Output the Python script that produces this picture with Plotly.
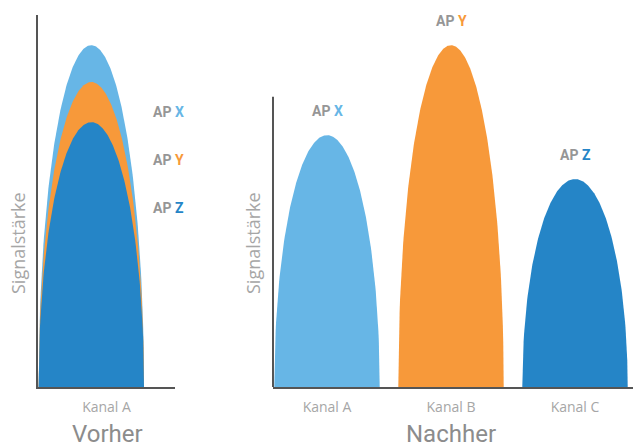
import numpy as np
import plotly.graph_objects as go

# ---- data ----
ap_names = ["X", "Y", "Z"]
ap_colors = ["#67B6E6", "#F7993A", "#2585C7"]
before_channel = "Kanal A"
before_center = 1.0
before_peaks = [91.9, 82.0, 71.2]          # Vorher: all three APs on Kanal A
after_channels = ["Kanal A", "Kanal B", "Kanal C"]
after_centers = [1, 2, 3]
after_peaks = [67.7, 91.9, 55.9]           # Nachher: one AP per channel
half_width = 0.425                         # channel half width (in channel units)

W, H = 634, 447
GRAY_AX = "#555555"
GRAY_TXT = "#A6A6A6"
GRAY_AP = "#969696"
FONT = "Open Sans"
FONT_B = "Roboto"


def hump(c, peak, n=240):
    t = np.linspace(-1, 1, n)
    return c + half_width * t, peak * np.sqrt(np.clip(1 - t ** 2, 0, None))


fig = go.Figure()

# Vorher: tallest first so smaller humps sit on top
for name, col, pk in sorted(zip(ap_names, ap_colors, before_peaks), key=lambda r: -r[2]):
    x, y = hump(before_center, pk)
    fig.add_trace(go.Scatter(x=x, y=y, mode="lines", fill="tozeroy", fillcolor=col,
                             line=dict(width=0, color=col), hoverinfo="skip",
                             showlegend=False, xaxis="x", yaxis="y"))

# Nachher
for name, col, c, pk in zip(ap_names, ap_colors, after_centers, after_peaks):
    x, y = hump(c, pk)
    fig.add_trace(go.Scatter(x=x, y=y, mode="lines", fill="tozeroy", fillcolor=col,
                             line=dict(width=0, color=col), hoverinfo="skip",
                             showlegend=False, xaxis="x2", yaxis="y2"))

ydom = [(H - 387) / H, (H - 15) / H]
left_range = [0.57, 1.675]
right_range = [0.5645, 3.4677]

axis_common = dict(showgrid=False, zeroline=False, ticks="", fixedrange=True,
                   tickfont=dict(family=FONT, size=14, color=GRAY_TXT))

fig.update_layout(
    width=W, height=H,
    margin=dict(l=0, r=0, t=0, b=0),
    paper_bgcolor="white", plot_bgcolor="white",
    xaxis=dict(domain=[38 / W, 175 / W], range=left_range, anchor="y",
               showline=True, linecolor=GRAY_AX, linewidth=2, ticklabelstandoff=6,
               tickvals=[sum(left_range) / 2], ticktext=[before_channel], **axis_common),
    yaxis=dict(domain=ydom, range=[0, 100], anchor="x", showline=True,
               linecolor=GRAY_AX, linewidth=2, showticklabels=False, **axis_common),
    xaxis2=dict(domain=[273 / W, 633 / W], range=right_range, anchor="y2",
                showline=True, linecolor=GRAY_AX, linewidth=2, ticklabelstandoff=6,
                tickvals=after_centers, ticktext=after_channels, **axis_common),
    yaxis2=dict(domain=ydom, range=[0, 100], anchor="x2", showline=False,
                showticklabels=False, **axis_common),
)

# right y-axis line (shorter than the plotting area)
fig.add_shape(type="line", xref="x2 domain", yref="y2", x0=0, x1=0, y0=0, y1=78,
              line=dict(color=GRAY_AX, width=2), layer="above")


def ap_label(name, col):
    return (f"<b><span style='color:{GRAY_AP}'>AP</span> "
            f"<span style='color:{col}'>{name}</span></b>")


# Vorher legend-like labels
for i, (name, col) in enumerate(zip(ap_names, ap_colors)):
    fig.add_annotation(xref="paper", yref="paper", x=168 / W, y=1 - (112 + 48 * i) / H,
                       text=ap_label(name, col), showarrow=False,
                       font=dict(family=FONT_B, size=14), xanchor="center", yanchor="middle")

# Nachher labels above peaks
for name, col, c, pk in zip(ap_names, ap_colors, after_centers, after_peaks):
    fig.add_annotation(xref="x2", yref="y2", x=c, y=pk, yshift=24,
                       text=ap_label(name, col), showarrow=False,
                       font=dict(family=FONT_B, size=14), xanchor="center", yanchor="middle")

# axis titles
for xp in (18, 253):
    fig.add_annotation(xref="paper", yref="paper", x=xp / W, y=1 - 243 / H,
                       text="Signalstärke", textangle=-90, showarrow=False,
                       font=dict(family=FONT, size=18, color=GRAY_TXT),
                       xanchor="center", yanchor="middle")

for txt, xp in (("Vorher", 107), ("Nachher", 451)):
    fig.add_annotation(xref="paper", yref="paper", x=xp / W, y=1 - 434 / H,
                       text=txt, showarrow=False,
                       font=dict(family=FONT_B, size=24, color="#8C8C8C"),
                       xanchor="center", yanchor="middle")

fig.write_html("out.html", config={"displayModeBar": False},
               post_script="document.body.style.margin='0px';document.body.style.overflow='hidden';")
